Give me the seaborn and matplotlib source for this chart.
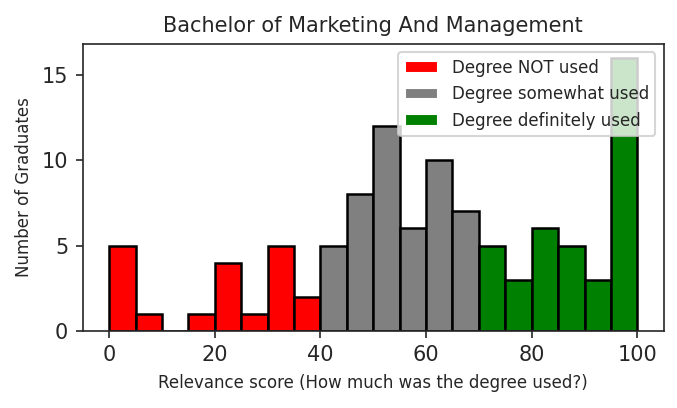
import numpy as np
import pandas as pd
import seaborn as sns
import matplotlib
matplotlib.use("Agg")
import matplotlib.pyplot as plt
from matplotlib.patches import Patch

# bin starts (width 5) and graduate counts per group
not_used_bins = [0, 5, 10, 15, 20, 25, 30, 35]
not_used_counts = [5, 1, 0, 1, 4, 1, 5, 2]
somewhat_bins = [40, 45, 50, 55, 60, 65]
somewhat_counts = [5, 8, 12, 6, 10, 7]
definitely_bins = [70, 75, 80, 85, 90, 95]
definitely_counts = [5, 3, 6, 5, 3, 16]

labels = ["Degree NOT used", "Degree somewhat used", "Degree definitely used"]
colors = ["red", "grey", "green"]

sns.set_style("ticks")
plt.rcParams["font.family"] = ["DejaVu Sans"]

fig, ax = plt.subplots(figsize=(4.52, 2.72), dpi=150)

groups = [(not_used_bins, not_used_counts), (somewhat_bins, somewhat_counts),
          (definitely_bins, definitely_counts)]
for (starts, counts), col in zip(groups, colors):
    df = pd.DataFrame({"score": np.array(starts) + 2.5, "n": counts})
    sns.histplot(data=df, x="score", weights="n", binwidth=5,
                 binrange=(starts[0], starts[-1] + 5), color=col,
                 edgecolor="black", linewidth=1.2, alpha=1, ax=ax)

ax.set_title("Bachelor of Marketing And Management", fontsize=10)
ax.set_xlabel("Relevance score (How much was the degree used?)", fontsize=8)
ax.set_ylabel("Number of Graduates", fontsize=8)
ax.tick_params(labelsize=10)

handles = [Patch(facecolor=c, label=l) for c, l in zip(colors, labels)]
ax.legend(handles=handles, loc="upper right", fontsize=8, frameon=True)

fig.subplots_adjust(left=0.122, right=0.979, top=0.892, bottom=0.189)
fig.savefig("out.png", dpi=150)
